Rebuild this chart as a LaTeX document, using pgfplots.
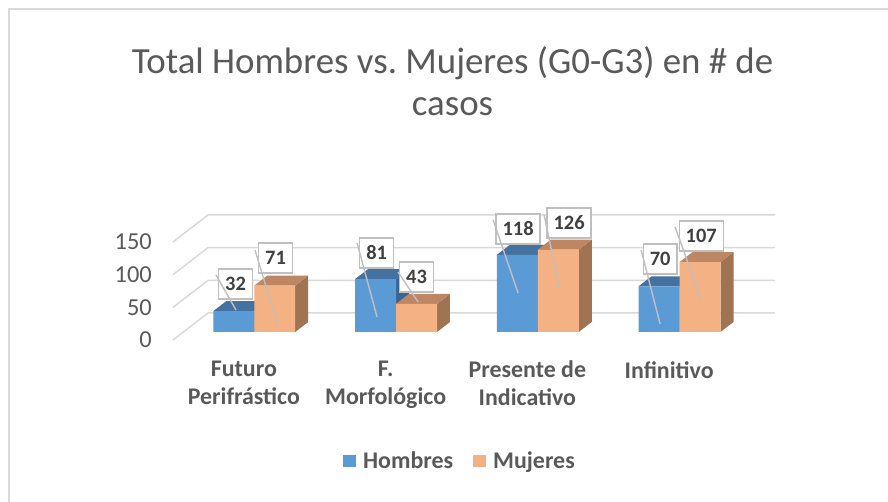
\documentclass[border=0pt]{standalone}
\usepackage{pgfplots}
\pgfplotsset{compat=1.18}
\usepackage{fontspec}
\setmainfont{Carlito}
\definecolor{hfront}{HTML}{5B9BD5}
\definecolor{htop}{HTML}{4472A0}
\definecolor{hside}{HTML}{3A6590}
\definecolor{mfront}{HTML}{F4B183}
\definecolor{mtop}{HTML}{BE8764}
\definecolor{mside}{HTML}{A07452}
\definecolor{gridc}{HTML}{D9D9D9}
\definecolor{txt}{HTML}{595959}
\definecolor{lbltxt}{HTML}{404040}
\definecolor{boxc}{HTML}{BFBFBF}
\begin{document}
\begin{tikzpicture}[x=1bp,y=1bp,
  lbl/.style={draw=boxc, line width=1.3bp, fill=white, text=lbltxt,
    font=\fontsize{20.5}{20.5}\selectfont\bfseries, minimum height=30bp, inner xsep=6.5bp, inner ysep=0pt},
  leader/.style={draw=boxc, line width=1.4bp}]
\useasboundingbox (0,0) rectangle (888,502);
\fill[white] (0,0) rectangle (888,502);
\draw[gridc, line width=2bp] (8.5,-10) -- (8.5,492.5) -- (900,492.5);
\node[align=center, text=txt, font=\fontsize{37}{42}\selectfont] at (452.5,421) {Total Hombres vs.\ Mujeres (G0-G3) en \# de\\casos};
\pgfplotsset{chartbase/.style={scale only axis, width=567bp, height=98bp, xmin=-0.5, xmax=3.5, ymin=0, ymax=150, clip=false, anchor=south west}}
% front plane: tick labels, category labels, wall grid
\begin{axis}[chartbase, at={(173bp,162bp)},
  axis line style={draw=none}, major tick style={draw=none},
  ytick={0,50,100,150}, xtick={0,1,2,3},
  xticklabels={{Futuro\\Perifrástico},{F.\\Morfológico},{Presente de\\Indicativo},{Infinitivo}},
  yticklabel style={anchor=east, inner sep=0pt, xshift=-21bp, font=\fontsize{24.5}{24.5}\selectfont, text=txt},
  xticklabel style={anchor=north, align=center, inner sep=0pt, yshift=-21bp, font=\fontsize{24}{28}\selectfont\bfseries, text=txt},
  /pgf/number format/assume math mode=true]
\pgfplotsinvokeforeach{0,50,100,150}{
  \draw[gridc, line width=1.5bp] (axis cs:-0.5,#1) -- ++(35bp,27bp) -- ++(567bp,0bp);
}
\end{axis}
% bar plane
\begin{axis}[chartbase, at={(183.4bp,170bp)}, hide axis,
  legend image code/.code={\fill[#1] (0bp,-6bp) rectangle (13bp,6bp); \path (18bp,0bp);},
  legend columns=2,
  legend cell align=left,
  legend style={at={(axis description cs:0.4878,-1.316)}, anchor=center, draw=none, fill=none,
    font=\fontsize{24}{24}\selectfont\bfseries, text=txt, inner sep=0pt,
    /tikz/every even column/.append style={column sep=18bp}}]
\addlegendimage{fill=hfront, draw=none}
\addlegendentry{Hombres}
\addlegendimage{fill=mfront, draw=none}
\addlegendentry{Mujeres}
% Hombres: 32, 81, 118, 70
\addplot[fill=hside, draw=none, forget plot] coordinates {(0,0) (0.0917,15.3) (0.0917,47.3) (0,32)};
\addplot[fill=hside, draw=none, forget plot] coordinates {(1,0) (1.0917,15.3) (1.0917,96.3) (1,81)};
\addplot[fill=hside, draw=none, forget plot] coordinates {(2,0) (2.0917,15.3) (2.0917,133.3) (2,118)};
\addplot[fill=hside, draw=none, forget plot] coordinates {(3,0) (3.0917,15.3) (3.0917,85.3) (3,70)};
\addplot[fill=htop, draw=none, forget plot] coordinates {(-0.289,32) (-0.1973,47.3) (0.0917,47.3) (0,32)};
\addplot[fill=htop, draw=none, forget plot] coordinates {(0.711,81) (0.8027,96.3) (1.0917,96.3) (1,81)};
\addplot[fill=htop, draw=none, forget plot] coordinates {(1.711,118) (1.8027,133.3) (2.0917,133.3) (2,118)};
\addplot[fill=htop, draw=none, forget plot] coordinates {(2.711,70) (2.8027,85.3) (3.0917,85.3) (3,70)};
\addplot[ybar, bar width=0.289, bar shift=-0.1445, fill=hfront, draw=none, forget plot]
  coordinates {(0,32) (1,81) (2,118) (3,70)};
% Mujeres: 71, 43, 126, 107
\addplot[fill=mside, draw=none, forget plot] coordinates {(0.289,0) (0.3807,15.3) (0.3807,86.3) (0.289,71)};
\addplot[fill=mside, draw=none, forget plot] coordinates {(1.289,0) (1.3807,15.3) (1.3807,58.3) (1.289,43)};
\addplot[fill=mside, draw=none, forget plot] coordinates {(2.289,0) (2.3807,15.3) (2.3807,141.3) (2.289,126)};
\addplot[fill=mside, draw=none, forget plot] coordinates {(3.289,0) (3.3807,15.3) (3.3807,122.3) (3.289,107)};
\addplot[fill=mtop, draw=none, forget plot] coordinates {(0,71) (0.0917,86.3) (0.3807,86.3) (0.289,71)};
\addplot[fill=mtop, draw=none, forget plot] coordinates {(1,43) (1.0917,58.3) (1.3807,58.3) (1.289,43)};
\addplot[fill=mtop, draw=none, forget plot] coordinates {(2,126) (2.0917,141.3) (2.3807,141.3) (2.289,126)};
\addplot[fill=mtop, draw=none, forget plot] coordinates {(3,107) (3.0917,122.3) (3.3807,122.3) (3.289,107)};
\addplot[ybar, bar width=0.289, bar shift=0.1445, fill=mfront, draw=none, forget plot]
  coordinates {(0,71) (1,43) (2,126) (3,107)};
% data labels
\node[lbl] at (axis cs:-0.132,73.5) {32};
\node[lbl] at (axis cs:0.150,113.3) {71};
\node[lbl] at (axis cs:0.863,120.9) {81};
\node[lbl] at (axis cs:1.145,84.2) {43};
\node[lbl] at (axis cs:1.861,157.7) {118};
\node[lbl] at (axis cs:2.221,166.8) {126};
\node[lbl] at (axis cs:2.863,111.7) {70};
\node[lbl] at (axis cs:3.153,146.9) {107};
% leader lines
\draw[leader] (axis cs:-0.270,87.2) -- (axis cs:-0.129,33.7);
\draw[leader] (axis cs:0.005,125.5) -- (axis cs:0.161,13.8);
\draw[leader] (axis cs:0.725,136.2) -- (axis cs:0.866,23.0);
\draw[leader] (axis cs:1.014,91.8) -- (axis cs:1.156,45.9);
\draw[leader] (axis cs:1.685,171.4) -- (axis cs:1.861,59.7);
\draw[leader] (axis cs:2.045,179.1) -- (axis cs:2.151,67.3);
\draw[leader] (axis cs:2.729,125.5) -- (axis cs:2.863,12.2);
\draw[leader] (axis cs:2.969,160.7) -- (axis cs:3.153,49.0);
\end{axis}
\end{tikzpicture}
\end{document}
